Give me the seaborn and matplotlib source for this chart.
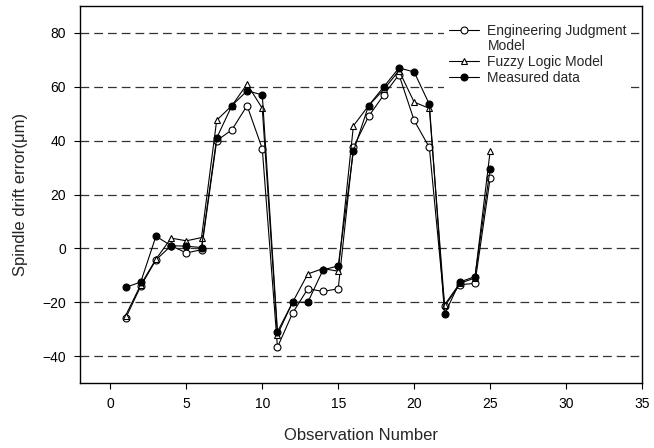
import seaborn as sns
import matplotlib.pyplot as plt
import pandas as pd
import matplotlib
from matplotlib.lines import Line2D
matplotlib.use('Agg')

# values
obs = list(range(1, 26))
engineering = [-26, -14, -4.3, 1, -1.7, -0.5, 40, 44, 53, 37,
               -36.7, -24, -15, -16, -15, 37.5, 49, 57, 64.5, 47.5,
               37.5, -21.5, -13.5, -13, 26]
fuzzy = [-25, -13.5, -4, 3.8, 2.8, 4, 47.6, 53, 61, 52,
         -32, -20, -9.5, -7.5, -8.5, 45.5, 53, 59, 66, 54.3,
         52, -21, -13, -11, 36]
measured = [-14.5, -12.5, 4.5, 1, 0.8, 0.3, 41, 53, 58.5, 57,
            -31, -20, -20, -8, -6.5, 36, 53, 60, 67, 65.5,
            53.5, -24.5, -12.5, -10.5, 29.5]
yticks = [-40, -20, 0, 20, 40, 60, 80]
xticks = [0, 5, 10, 15, 20, 25, 30, 35]

df = pd.DataFrame({"obs": obs, "eng": engineering, "fuzzy": fuzzy, "meas": measured})

sns.set_style("white")
plt.rcParams['font.family'] = ['Liberation Sans', 'DejaVu Sans']

fig = plt.figure(figsize=(6.54, 4.48), dpi=100)
ax = fig.add_axes([80 / 654, 1 - 383 / 448, 562 / 654, 377 / 448])

# dashed horizontal grid
for v in yticks:
    ax.axhline(v, color='0.2', lw=0.9, ls=(0, (7, 4)), zorder=0)

common = dict(color='black', lw=0.8, markersize=5, markeredgewidth=0.8, markeredgecolor='black')
sns.lineplot(data=df, x="obs", y="eng", ax=ax, marker='o', markerfacecolor='white',
             label="Engineering Judgment", **common)
sns.lineplot(data=df, x="obs", y="fuzzy", ax=ax, marker='^', markerfacecolor='white',
             label="Fuzzy Logic Model", **common)
sns.lineplot(data=df, x="obs", y="meas", ax=ax, marker='o', markerfacecolor='black',
             label="Measured data", **common)

ax.set_xlim(-2, 35)
ax.set_ylim(-50, 90)
ax.set_xticks(xticks)
ax.set_yticks(yticks)
ax.tick_params(axis='both', direction='out', length=4, width=0.8, labelsize=10, pad=6,
               bottom=True, left=True, colors='black')
for s in ax.spines.values():
    s.set_color('black')
    s.set_linewidth(1.0)

ax.set_xlabel("Observation Number", fontsize=12, labelpad=12)
ax.set_ylabel("Spindle drift error(\u03bcm)", fontsize=12, labelpad=10)

# legend: second line of the first label gets an empty handle
handles, labels = ax.get_legend_handles_labels()
blank = Line2D([], [], ls='none', marker=None)
handles = [handles[0], blank, handles[1], handles[2]]
labels = [labels[0], "Model", labels[1], labels[2]]
leg = ax.legend(handles, labels, loc='upper right', bbox_to_anchor=(0.988, 0.975),
                frameon=True, fancybox=False, fontsize=10, handlelength=2.2,
                labelspacing=0.12, borderaxespad=0.3, handletextpad=0.6, borderpad=0.3)
leg.get_frame().set_edgecolor('none')
leg.get_frame().set_facecolor('white')
leg.get_frame().set_alpha(1)

fig.savefig('out.png', dpi=100)
